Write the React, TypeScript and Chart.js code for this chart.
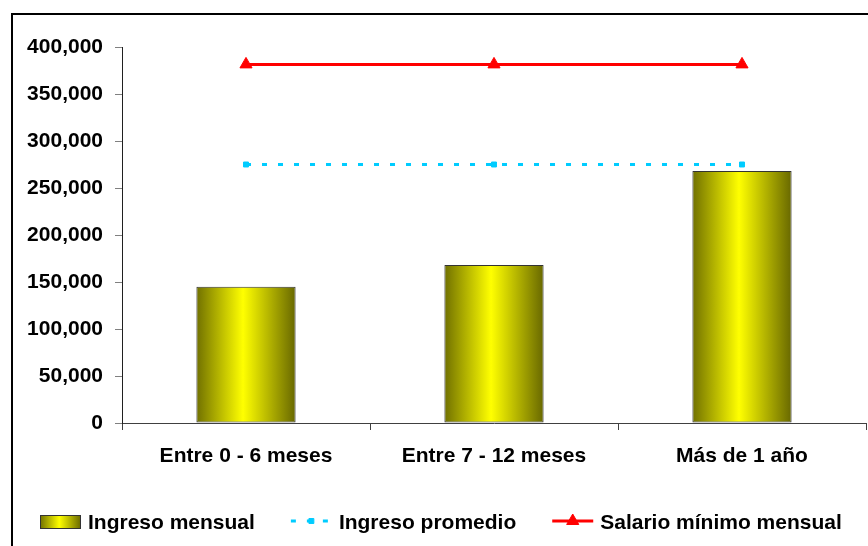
import { useEffect, useRef } from 'react';
import { Chart, registerables } from 'chart.js';
import { drawPoint } from 'chart.js/helpers';

Chart.register(...registerables);

// Data
const CATEGORIES = ['Entre 0 - 6 meses', 'Entre 7 - 12 meses', 'Más de 1 año'];
const INGRESO_MENSUAL = [145000, 168000, 268000];
const INGRESO_PROMEDIO = [275000, 275000, 275000];
const SALARIO_MINIMO = [381500, 381500, 381500];
const Y_MIN = 0;
const Y_MAX = 400000;
const Y_STEP = 50000;

const FONT_FAMILY = '"Liberation Sans", Arial, Helvetica, sans-serif';
const BAR_FRACTION = 0.4;
// canvas runs a few px past the right edge of the page so the plot reaches x = 866
const CANVAS_W = 874;
const CANVAS_H = 546;

function barGradient(c: CanvasRenderingContext2D, x0: number, x1: number) {
  const g = c.createLinearGradient(x0, 0, x1, 0);
  g.addColorStop(0, '#707000');
  g.addColorStop(0.47, '#ffff00');
  g.addColorStop(1, '#686800');
  return g;
}

// Bottom legend: sample mark + label, laid out left to right
const legendPlugin = {
  id: 'bottomLegend',
  afterDraw(chart: any) {
    const c: CanvasRenderingContext2D = chart.ctx;
    const sampleW = 41;
    const gap = 7;
    const spacing = 36;
    const yMid = 522;
    let x = 40;
    c.save();
    c.font = `bold 21px ${FONT_FAMILY}`;
    c.textBaseline = 'alphabetic';
    c.textAlign = 'left';
    chart.data.datasets.forEach((ds: any) => {
      if (ds.type === 'bar') {
        c.fillStyle = barGradient(c, x, x + sampleW);
        c.fillRect(x, yMid - 7, sampleW, 14);
        c.strokeStyle = '#333333';
        c.lineWidth = 1;
        c.strokeRect(x + 0.5, yMid - 6.5, sampleW - 1, 13);
      } else {
        c.save();
        c.strokeStyle = ds.borderColor;
        c.lineWidth = ds.borderWidth;
        c.setLineDash(ds.borderDash || []);
        c.beginPath();
        c.moveTo(x, yMid - 1);
        c.lineTo(x + sampleW, yMid - 1);
        c.stroke();
        c.restore();
        c.save();
        c.fillStyle = ds.pointBackgroundColor;
        c.strokeStyle = ds.pointBorderColor;
        drawPoint(c, { pointStyle: ds.pointStyle, radius: ds.pointRadius, rotation: 0, borderWidth: 1 } as any, x + sampleW / 2, yMid - 1);
        c.restore();
      }
      const tx = x + sampleW + gap;
      c.fillStyle = '#000000';
      c.fillText(ds.label, tx, yMid + 7);
      x = tx + c.measureText(ds.label).width + spacing;
    });
    c.restore();
  },
};

export default function App() {
  const canvasRef = useRef<HTMLCanvasElement | null>(null);

  useEffect(() => {
    const canvas = canvasRef.current;
    if (!canvas) return;
    const chart = new Chart(canvas, {
      type: 'bar',
      data: {
        labels: CATEGORIES,
        datasets: [
          {
            type: 'bar',
            label: 'Ingreso mensual',
            data: INGRESO_MENSUAL,
            order: 2,
            backgroundColor: (ctx: any) => {
              const ch = ctx.chart;
              const xs = ch.scales && ch.scales.x;
              if (!ch.chartArea || !xs || ctx.dataIndex === undefined) return '#e0e000';
              const cx = xs.getPixelForValue(ctx.dataIndex);
              const half = ((xs.getPixelForValue(1) - xs.getPixelForValue(0)) * BAR_FRACTION) / 2;
              return barGradient(ch.ctx, cx - half, cx + half);
            },
            borderColor: '#333333',
            borderWidth: 1,
            borderSkipped: false,
            barPercentage: BAR_FRACTION,
            categoryPercentage: 1,
          } as any,
          {
            type: 'line',
            label: 'Ingreso promedio',
            data: INGRESO_PROMEDIO,
            order: 1,
            borderColor: '#00ccff',
            borderWidth: 3,
            borderDash: [5, 11],
            pointStyle: 'rect',
            pointRadius: 3.5,
            pointBackgroundColor: '#00ccff',
            pointBorderColor: '#00ccff',
            pointBorderWidth: 1,
            fill: false,
          } as any,
          {
            type: 'line',
            label: 'Salario mínimo mensual',
            data: SALARIO_MINIMO,
            order: 0,
            borderColor: '#ff0000',
            borderWidth: 3,
            pointStyle: 'triangle',
            pointRadius: 7,
            pointBackgroundColor: '#ff0000',
            pointBorderColor: '#ff0000',
            pointBorderWidth: 1,
            fill: false,
          } as any,
        ],
      },
      options: {
        responsive: false,
        animation: false,
        layout: { padding: { left: 0, right: 2, top: 47, bottom: 0 } },
        plugins: {
          legend: { display: false },
          tooltip: { enabled: false },
        },
        scales: {
          x: {
            offset: true,
            grid: {
              display: true,
              offset: true,
              drawOnChartArea: false,
              drawTicks: true,
              tickLength: 7,
              color: '#404040',
            },
            border: { display: true, color: '#404040', width: 1 },
            ticks: {
              padding: 14,
              color: '#000000',
              font: { family: FONT_FAMILY, size: 21, weight: 'bold' },
              maxRotation: 0,
              autoSkip: false,
            },
            afterFit: (scale: any) => {
              scale.height = 123;
              scale.paddingLeft = 0;
              scale.paddingRight = 0;
            },
          },
          y: {
            min: Y_MIN,
            max: Y_MAX,
            grid: {
              display: true,
              drawOnChartArea: false,
              drawTicks: true,
              tickLength: 7,
              color: '#808080',
            },
            border: { display: true, color: '#202020', width: 1 },
            ticks: {
              stepSize: Y_STEP,
              padding: 12,
              color: '#000000',
              font: { family: FONT_FAMILY, size: 21, weight: 'bold' },
              callback: (v: any) => Number(v).toLocaleString('en-US'),
            },
            afterFit: (scale: any) => {
              scale.width = 122;
              scale.paddingTop = 0;
              scale.paddingBottom = 0;
            },
          },
        },
      } as any,
      plugins: [legendPlugin],
    });
    return () => chart.destroy();
  }, []);

  return (
    <>
      <canvas
        ref={canvasRef}
        width={CANVAS_W}
        height={CANVAS_H}
        style={{ position: 'fixed', left: 0, top: 0, width: CANVAS_W, height: CANVAS_H, background: '#ffffff' }}
      />
      <div
        style={{
          position: 'fixed',
          left: 11,
          top: 13,
          width: 900,
          height: 600,
          border: '2px solid #000000',
          pointerEvents: 'none',
        }}
      />
    </>
  );
}
